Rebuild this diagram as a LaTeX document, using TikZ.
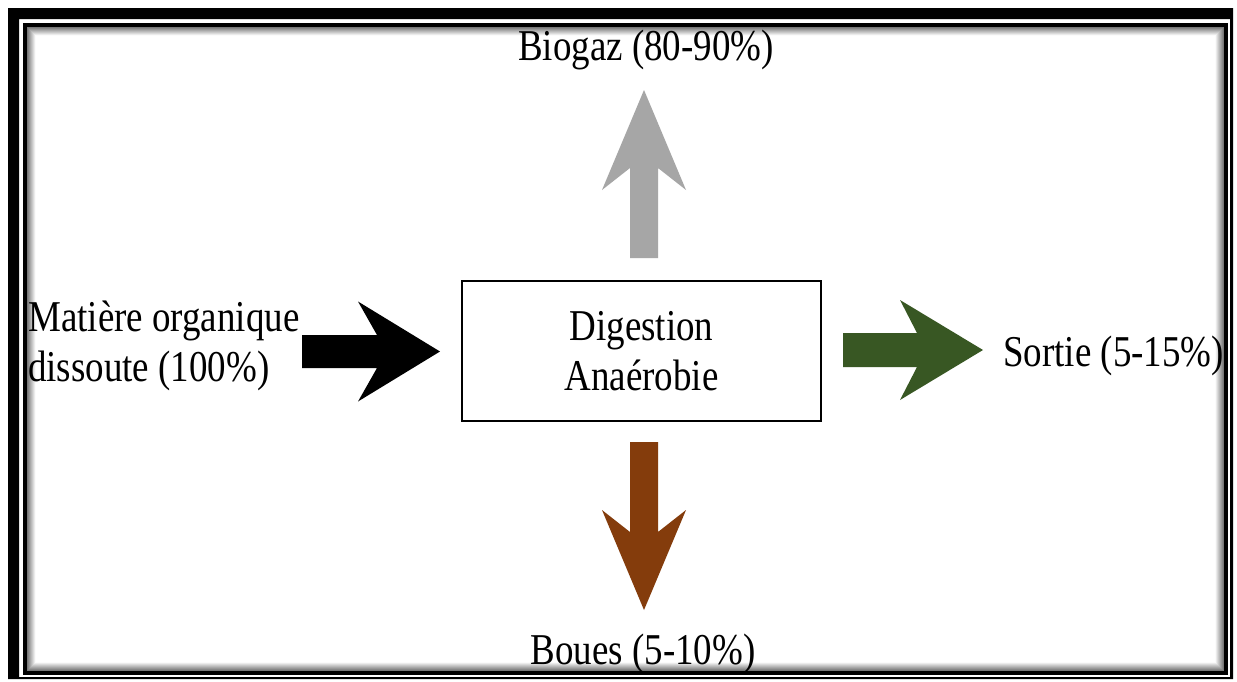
\documentclass[tikz,border=0pt]{standalone}
\usepackage{fontspec}
\setmainfont{Liberation Serif}[FakeStretch=0.84]
\usepackage{tikz}
\usepackage{xcolor}
\definecolor{gazgray}{HTML}{A6A6A6}
\definecolor{sortiegreen}{HTML}{385723}
\definecolor{bouebrown}{HTML}{843C0C}
% filled block arrow: colour, start, angle, length, shaft half, head half, neck, barb
\newcommand{\fatarrow}[8]{\fill[#1,shift={#2},rotate=#3] (0,-#5) -- (#7,-#5) -- (#8,-#6) -- (#4,0) -- (#8,#6) -- (#7,#5) -- (0,#5) -- cycle;}

\begin{document}
\begin{tikzpicture}[x=1pt,y=-1pt,font=\fontsize{44}{50}\selectfont,
		lbl/.style={inner sep=0pt},
		procbox/.style={draw,line width=2.6pt,minimum width=359pt,minimum height=140pt,align=center,inner sep=0pt}]
				\useasboundingbox (0,0) rectangle (1237,681);
				\fill[white] (0,0) rectangle (1237,681);
				% frame
				\fill[black,even odd rule] (8,8) rectangle (1233,679) (19,19) rectangle (1230,677);
				\draw[line width=4pt] (25,25) rectangle (1226,673);
				\foreach \i [evaluate=\i as \g using 60-6.5*\i] in {1,...,9}
					\draw[line width=1.1pt,black!\g] (27+\i-.5,27+\i-.5) rectangle (1224-\i+.5,671-\i+.5);
				% nodes
				\node[procbox] (dig) at (641.5,351) {Digestion\\Anaérobie};
				\node[lbl,anchor=west,align=left] (mo) at (28,346) {Matière organique\\dissoute (100\%)};
				\node[lbl,anchor=base] (gaz) at (646,60) {Biogaz (80-90\%)};
				\node[lbl,anchor=base] (boues) at (643,664) {Boues (5-10\%)};
				\node[lbl,anchor=base west] (sortie) at (1003,366) {Sortie (5-15\%)};
				% arrows
				\coordinate (in) at (302,351.5);
				\coordinate (out) at (843,350);
				\coordinate (up) at (644,258);
				\coordinate (down) at (644,442);
				\fatarrow{black}{(in)}{0}{138}{16.5}{50}{75}{56}
				\fatarrow{sortiegreen}{(out)}{0}{140}{17}{50}{74}{57}
				\fatarrow{gazgray}{(up)}{90}{168}{14}{42}{90}{68}
				\fatarrow{bouebrown}{(down)}{-90}{168}{14}{42}{90}{68}
			\end{tikzpicture}
\end{document}
